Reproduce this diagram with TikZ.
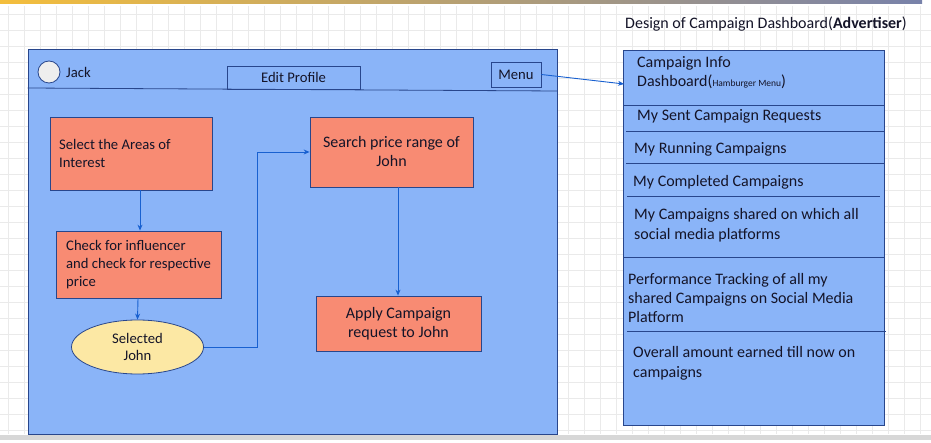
\documentclass[tikz,border=0pt]{standalone}
\usepackage{fontspec}
\setmainfont{Carlito}
\usetikzlibrary{arrows.meta,shapes.geometric}
\definecolor{phone}{RGB}{138,180,248}
\definecolor{salmon}{RGB}{248,139,115}
\definecolor{pale}{RGB}{252,232,164}
\definecolor{edge}{RGB}{40,70,140}
\definecolor{arrowc}{RGB}{24,96,208}
\definecolor{gridc}{RGB}{234,234,234}
\definecolor{txt}{RGB}{20,20,40}
\definecolor{barL}{RGB}{244,190,60}
\definecolor{barR}{RGB}{120,130,170}
\definecolor{bandc}{RGB}{215,215,215}
\definecolor{avatarc}{RGB}{238,238,238}
\tikzset{
  fs/.style 2 args={font=\fontsize{#1}{#2}\selectfont},
  flowbox/.style={draw=edge, fill=salmon, line width=0.8pt, inner sep=0pt, text=txt},
  plain/.style={inner sep=0pt, text=txt},
  conn/.style={draw=arrowc, line width=0.9pt, -{Stealth[length=6pt,width=5pt]}},
  divider/.style={draw=edge, line width=0.8pt},
}
\begin{document}
\begin{tikzpicture}[x=1pt,y=-1pt]
\useasboundingbox (0,0) rectangle (931,443);
\fill[white] (0,0) rectangle (931,443);
% background grid
\foreach \gx in {8,24,...,931} \draw[gridc, line width=0.5pt] (\gx,6) -- (\gx,434);
\foreach \gy in {14,30,...,434} \draw[gridc, line width=0.5pt] (0,\gy) -- (931,\gy);
% top bar
\shade[left color=barL, right color=barR] (0,0) rectangle (922,4);
% bottom band
\fill[bandc] (0,435) rectangle (931,440);
% title
\node[plain, fs={16}{19.5}, anchor=west] (title) at (625,24) {Design of Campaign Dashboard(\textbf{Advertiser})};
% phone frame
\node[draw=edge, fill=phone, line width=0.8pt, minimum width=529pt, minimum height=385pt, inner sep=0pt] (phone) at (292.5,241.5) {};
\draw[divider] (phone.west |- 0,88) -- (phone.east |- 0,91);
\node[circle, draw=edge, fill=avatarc, line width=0.8pt, minimum size=22pt, inner sep=0pt] (avatar) at (49,72) {};
\node[plain, fs={14.67}{18}, anchor=west] (jack) at (66,72) {Jack};
\node[draw=edge, line width=0.8pt, minimum width=133pt, minimum height=23pt, inner sep=0pt, fs={14.67}{18}, text=txt] (edit) at (293.5,77.5) {Edit Profile};
\node[draw=edge, line width=0.8pt, minimum width=50pt, minimum height=25pt, inner sep=0pt, fs={14.67}{18}, text=txt] (menu) at (516,74.5) {Menu};
% flow
\node[flowbox, minimum width=162pt, minimum height=73pt] (b1) at (131,153.5) {};
\node[plain, fs={14.67}{17.5}, anchor=west, align=left] (b1t) at (59,153.5) {Select the Areas of\\Interest};
\node[flowbox, minimum width=165pt, minimum height=67pt] (b2) at (138.5,264.5) {};
\node[plain, fs={14.67}{18}, anchor=west, align=left] (b2t) at (66,265) {Check for influencer\\and check for respective\\price};
\node[ellipse, draw=edge, fill=pale, line width=0.8pt, minimum width=132pt, minimum height=54pt, inner sep=0pt, fs={14.67}{17}, align=center, text=txt] (sel) at (137.5,347) {Selected\\John};
\node[flowbox, minimum width=163pt, minimum height=70pt, fs={16}{19}, align=center] (b3) at (391.5,152) {Search price range of\\John};
\node[flowbox, minimum width=165pt, minimum height=55pt, fs={16}{18.5}, align=center] (b4) at (398.5,323.5) {Apply Campaign\\request to John};
\draw[conn] (b1.south -| 140,0) -- (b2.north -| 140,0);
\draw[conn] (b2.south -| 138,0) -- (sel.north);
\coordinate (bend) at (257,347);
\draw[conn] (sel.east) -- (bend) -- (bend |- b3.west) -- (b3.west);
\draw[conn] (b3.south -| 398,0) -- (b4.north -| 398,0);
% right panel
\node[draw=edge, fill=phone, line width=0.8pt, minimum width=261pt, minimum height=375pt, inner sep=0pt] (panel) at (753.5,237.5) {};
\coordinate (pin) at (624,84);
\draw[conn] (menu.east) -- (pin);
\draw[divider] (623,105) -- (884,105);
\draw[divider] (626,131) -- (885,131);
\draw[divider] (626,163) -- (885,163);
\draw[divider] (627,196) -- (880,196);
\draw[divider] (623,257) -- (884,257);
\draw[divider] (627,331) -- (886,331);
\node[plain, fs={16}{19}, anchor=west, align=left] (p1) at (637,72.5) {Campaign Info\\Dashboard({\fontsize{9.5}{10}\selectfont Hamburger Menu})};
\node[plain, fs={16}{19}, anchor=west] (p2) at (637,116) {My Sent Campaign Requests};
\node[plain, fs={16}{19}, anchor=west] (p3) at (634,149) {My Running Campaigns};
\node[plain, fs={16}{19}, anchor=west] (p4) at (633,182) {My Completed Campaigns};
\node[plain, fs={16}{20}, anchor=west, align=left] (p5) at (634,225) {My Campaigns shared on which all\\social media platforms};
\node[plain, fs={16}{19}, anchor=west, align=left] (p6) at (628,298) {Performance Tracking of all my\\shared Campaigns on Social Media\\Platform};
\node[plain, fs={16}{20}, anchor=west, align=left] (p7) at (633,363) {Overall amount earned till now on\\campaigns};
\end{tikzpicture}
\end{document}
